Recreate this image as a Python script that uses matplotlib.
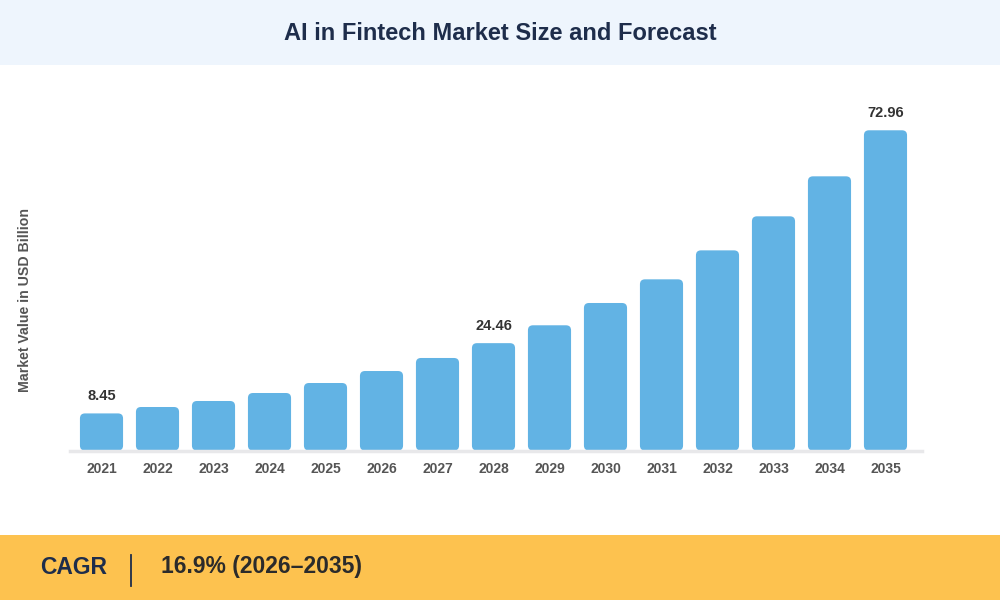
import matplotlib.pyplot as plt
from matplotlib.patches import FancyBboxPatch, Rectangle

years = ["2021", "2022", "2023", "2024", "2025", "2026", "2027", "2028",
         "2029", "2030", "2031", "2032", "2033", "2034", "2035"]
values = [8.45, 9.91, 11.28, 13.10, 15.38, 18.11, 21.08, 24.46,
          28.53, 33.61, 39.00, 45.60, 53.36, 62.47, 72.96]
labelled = ["2021", "2028", "2035"]

title = "AI in Fintech Market Size and Forecast"
ylabel = "Market Value in USD Billion"
cagr_label = "CAGR"
cagr_value = "16.9% (2026\u20132035)"

plt.rcParams["font.family"] = ["Liberation Sans", "DejaVu Sans"]

navy = "#1e2d4b"
bar_color = "#62b3e4"
fig = plt.figure(figsize=(10, 6), dpi=100)

# header and footer bands
fig.patches.append(Rectangle((0, 1 - 65 / 600), 1, 65 / 600, transform=fig.transFigure,
                             facecolor="#eef5fd", edgecolor="none", zorder=0))
fig.patches.append(Rectangle((0, 0), 1, 65 / 600, transform=fig.transFigure,
                             facecolor="#fdc24f", edgecolor="none", zorder=0))

fig.text(0.5, 1 - 33 / 600, title, ha="center", va="center", fontsize=17,
         fontweight="bold", color=navy)

fig.text(0.04, 1 - 567 / 600, cagr_label, ha="left", va="center", fontsize=16.5,
         fontweight="bold", color=navy)
fig.add_artist(plt.Line2D([0.131, 0.131], [1 - 586 / 600, 1 - 555 / 600],
                          transform=fig.transFigure, color=navy, lw=1.3))
fig.text(0.161, 1 - 567 / 600, cagr_value, ha="left", va="center", fontsize=16.5,
         fontweight="bold", color="#2b2b2b")

fig.text(0.025, 1 - 300 / 600, ylabel, rotation=90, ha="center", va="center",
         fontsize=10.2, fontweight="bold", color="#555555")

ax = fig.add_axes([0.07, 1 - 450.5 / 600, 0.852, 350.5 / 600])
x = list(range(len(years)))
bars = ax.bar(x, values, width=0.77, color=bar_color)
ax.set_xlim(-0.5625, 14.652)
ax.set_ylim(0, 79.86)

# swap plain bars for rounded ones
px_x = 0.852 * 1000 / (14.652 + 0.5625)
px_y = 350.5 / 79.86
for b in bars:
    b.set_visible(False)
    ax.add_patch(FancyBboxPatch((b.get_x(), b.get_y()), b.get_width(), b.get_height(),
                                boxstyle="round,pad=0,rounding_size=%f" % (5 / px_x),
                                mutation_aspect=px_x / px_y,
                                facecolor=bar_color, edgecolor="none", zorder=2))

for i, (yr, v) in enumerate(zip(years, values)):
    if yr in labelled:
        ax.text(i, v + 10 / px_y, "%.2f" % v, ha="center", va="bottom",
                fontsize=10.5, fontweight="bold", color="#333333")

ax.set_xticks(x, years)
for lab in ax.get_xticklabels():
    lab.set_fontweight("bold")
ax.tick_params(axis="x", length=0, pad=8, labelsize=10, labelcolor="#555555")
ax.set_yticks([])
for s in ["top", "right", "left"]:
    ax.spines[s].set_visible(False)
ax.spines["bottom"].set_color("#e8e8ea")
ax.spines["bottom"].set_linewidth(2.5)
ax.patch.set_alpha(0)

fig.savefig("out.png", dpi=100)
